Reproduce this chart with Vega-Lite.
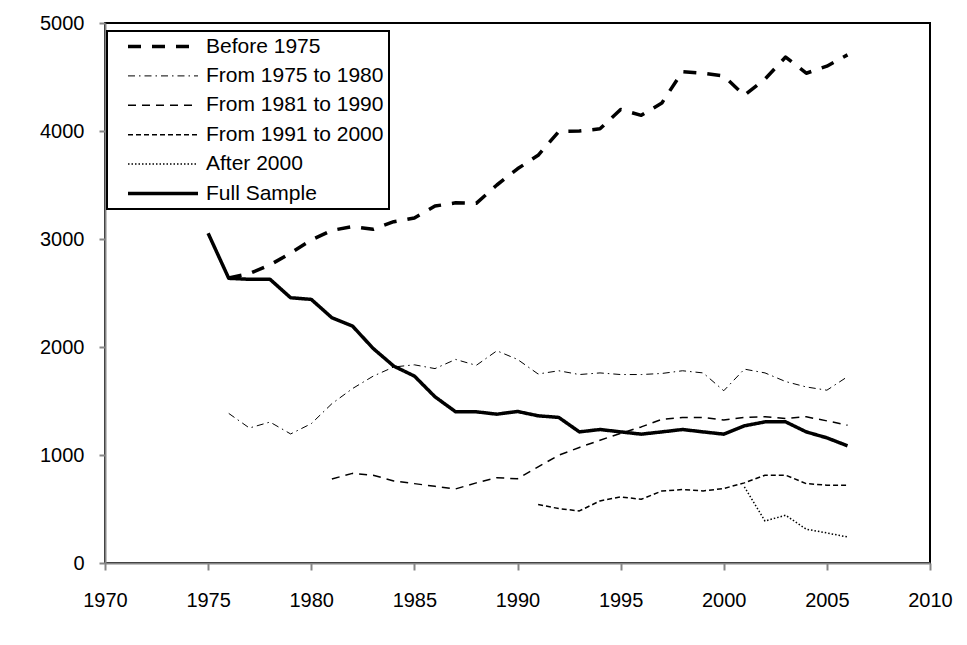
{
  "$schema": "https://vega.github.io/schema/vega-lite/v6.json",
  "width": 825,
  "height": 540,
  "autosize": {"type": "none"},
  "padding": {"left": 105, "top": 23, "right": 37, "bottom": 82},
  "background": "white",
  "config": {
    "font": "Liberation Sans",
    "view": {"stroke": "black", "strokeWidth": 2},
    "axis": {
      "grid": false,
      "domainColor": "#868686",
      "domainWidth": 2,
      "tickColor": "#868686",
      "tickWidth": 2,
      "tickSize": 7,
      "labelFont": "Liberation Sans",
      "labelFontSize": 20,
      "labelColor": "black",
      "title": null
    },
    "legend": {
      "strokeWidth": 2
    }
  },
  "data": {
    "values": [
      {"year": 1976, "series": "Before 1975", "value": 2640},
      {"year": 1977, "series": "Before 1975", "value": 2680},
      {"year": 1978, "series": "Before 1975", "value": 2760},
      {"year": 1979, "series": "Before 1975", "value": 2870},
      {"year": 1980, "series": "Before 1975", "value": 2990},
      {"year": 1981, "series": "Before 1975", "value": 3080},
      {"year": 1982, "series": "Before 1975", "value": 3115},
      {"year": 1983, "series": "Before 1975", "value": 3090},
      {"year": 1984, "series": "Before 1975", "value": 3160},
      {"year": 1985, "series": "Before 1975", "value": 3195},
      {"year": 1986, "series": "Before 1975", "value": 3305},
      {"year": 1987, "series": "Before 1975", "value": 3335},
      {"year": 1988, "series": "Before 1975", "value": 3330},
      {"year": 1989, "series": "Before 1975", "value": 3500},
      {"year": 1990, "series": "Before 1975", "value": 3650},
      {"year": 1991, "series": "Before 1975", "value": 3775},
      {"year": 1992, "series": "Before 1975", "value": 3995},
      {"year": 1993, "series": "Before 1975", "value": 4000},
      {"year": 1994, "series": "Before 1975", "value": 4020},
      {"year": 1995, "series": "Before 1975", "value": 4200},
      {"year": 1996, "series": "Before 1975", "value": 4145},
      {"year": 1997, "series": "Before 1975", "value": 4260},
      {"year": 1998, "series": "Before 1975", "value": 4550},
      {"year": 1999, "series": "Before 1975", "value": 4535},
      {"year": 2000, "series": "Before 1975", "value": 4510},
      {"year": 2001, "series": "Before 1975", "value": 4330},
      {"year": 2002, "series": "Before 1975", "value": 4480},
      {"year": 2003, "series": "Before 1975", "value": 4685},
      {"year": 2004, "series": "Before 1975", "value": 4535},
      {"year": 2005, "series": "Before 1975", "value": 4600},
      {"year": 2006, "series": "Before 1975", "value": 4705},

      {"year": 1976, "series": "From 1975 to 1980", "value": 1385},
      {"year": 1977, "series": "From 1975 to 1980", "value": 1250},
      {"year": 1978, "series": "From 1975 to 1980", "value": 1305},
      {"year": 1979, "series": "From 1975 to 1980", "value": 1195},
      {"year": 1980, "series": "From 1975 to 1980", "value": 1290},
      {"year": 1981, "series": "From 1975 to 1980", "value": 1475},
      {"year": 1982, "series": "From 1975 to 1980", "value": 1615},
      {"year": 1983, "series": "From 1975 to 1980", "value": 1730},
      {"year": 1984, "series": "From 1975 to 1980", "value": 1815},
      {"year": 1985, "series": "From 1975 to 1980", "value": 1835},
      {"year": 1986, "series": "From 1975 to 1980", "value": 1800},
      {"year": 1987, "series": "From 1975 to 1980", "value": 1885},
      {"year": 1988, "series": "From 1975 to 1980", "value": 1830},
      {"year": 1989, "series": "From 1975 to 1980", "value": 1965},
      {"year": 1990, "series": "From 1975 to 1980", "value": 1885},
      {"year": 1991, "series": "From 1975 to 1980", "value": 1750},
      {"year": 1992, "series": "From 1975 to 1980", "value": 1780},
      {"year": 1993, "series": "From 1975 to 1980", "value": 1745},
      {"year": 1994, "series": "From 1975 to 1980", "value": 1760},
      {"year": 1995, "series": "From 1975 to 1980", "value": 1745},
      {"year": 1996, "series": "From 1975 to 1980", "value": 1745},
      {"year": 1997, "series": "From 1975 to 1980", "value": 1755},
      {"year": 1998, "series": "From 1975 to 1980", "value": 1780},
      {"year": 1999, "series": "From 1975 to 1980", "value": 1760},
      {"year": 2000, "series": "From 1975 to 1980", "value": 1595},
      {"year": 2001, "series": "From 1975 to 1980", "value": 1795},
      {"year": 2002, "series": "From 1975 to 1980", "value": 1760},
      {"year": 2003, "series": "From 1975 to 1980", "value": 1680},
      {"year": 2004, "series": "From 1975 to 1980", "value": 1630},
      {"year": 2005, "series": "From 1975 to 1980", "value": 1600},
      {"year": 2006, "series": "From 1975 to 1980", "value": 1725},

      {"year": 1981, "series": "From 1981 to 1990", "value": 778},
      {"year": 1982, "series": "From 1981 to 1990", "value": 830},
      {"year": 1983, "series": "From 1981 to 1990", "value": 813},
      {"year": 1984, "series": "From 1981 to 1990", "value": 760},
      {"year": 1985, "series": "From 1981 to 1990", "value": 735},
      {"year": 1986, "series": "From 1981 to 1990", "value": 710},
      {"year": 1987, "series": "From 1981 to 1990", "value": 686},
      {"year": 1988, "series": "From 1981 to 1990", "value": 742},
      {"year": 1989, "series": "From 1981 to 1990", "value": 790},
      {"year": 1990, "series": "From 1981 to 1990", "value": 780},
      {"year": 1991, "series": "From 1981 to 1990", "value": 890},
      {"year": 1992, "series": "From 1981 to 1990", "value": 998},
      {"year": 1993, "series": "From 1981 to 1990", "value": 1070},
      {"year": 1994, "series": "From 1981 to 1990", "value": 1137},
      {"year": 1995, "series": "From 1981 to 1990", "value": 1200},
      {"year": 1996, "series": "From 1981 to 1990", "value": 1260},
      {"year": 1997, "series": "From 1981 to 1990", "value": 1330},
      {"year": 1998, "series": "From 1981 to 1990", "value": 1348},
      {"year": 1999, "series": "From 1981 to 1990", "value": 1348},
      {"year": 2000, "series": "From 1981 to 1990", "value": 1323},
      {"year": 2001, "series": "From 1981 to 1990", "value": 1348},
      {"year": 2002, "series": "From 1981 to 1990", "value": 1354},
      {"year": 2003, "series": "From 1981 to 1990", "value": 1338},
      {"year": 2004, "series": "From 1981 to 1990", "value": 1354},
      {"year": 2005, "series": "From 1981 to 1990", "value": 1316},
      {"year": 2006, "series": "From 1981 to 1990", "value": 1276},

      {"year": 1991, "series": "From 1991 to 2000", "value": 541},
      {"year": 1992, "series": "From 1991 to 2000", "value": 504},
      {"year": 1993, "series": "From 1991 to 2000", "value": 482},
      {"year": 1994, "series": "From 1991 to 2000", "value": 575},
      {"year": 1995, "series": "From 1991 to 2000", "value": 612},
      {"year": 1996, "series": "From 1991 to 2000", "value": 590},
      {"year": 1997, "series": "From 1991 to 2000", "value": 667},
      {"year": 1998, "series": "From 1991 to 2000", "value": 680},
      {"year": 1999, "series": "From 1991 to 2000", "value": 667},
      {"year": 2000, "series": "From 1991 to 2000", "value": 690},
      {"year": 2001, "series": "From 1991 to 2000", "value": 742},
      {"year": 2002, "series": "From 1991 to 2000", "value": 813},
      {"year": 2003, "series": "From 1991 to 2000", "value": 813},
      {"year": 2004, "series": "From 1991 to 2000", "value": 735},
      {"year": 2005, "series": "From 1991 to 2000", "value": 720},
      {"year": 2006, "series": "From 1991 to 2000", "value": 720},

      {"year": 2001, "series": "After 2000", "value": 705},
      {"year": 2002, "series": "After 2000", "value": 389},
      {"year": 2003, "series": "After 2000", "value": 442},
      {"year": 2004, "series": "After 2000", "value": 313},
      {"year": 2005, "series": "After 2000", "value": 278},
      {"year": 2006, "series": "After 2000", "value": 241},

      {"year": 1975, "series": "Full Sample", "value": 3053},
      {"year": 1976, "series": "Full Sample", "value": 2636},
      {"year": 1977, "series": "Full Sample", "value": 2627},
      {"year": 1978, "series": "Full Sample", "value": 2627},
      {"year": 1979, "series": "Full Sample", "value": 2456},
      {"year": 1980, "series": "Full Sample", "value": 2441},
      {"year": 1981, "series": "Full Sample", "value": 2271},
      {"year": 1982, "series": "Full Sample", "value": 2194},
      {"year": 1983, "series": "Full Sample", "value": 1987},
      {"year": 1984, "series": "Full Sample", "value": 1823},
      {"year": 1985, "series": "Full Sample", "value": 1731},
      {"year": 1986, "series": "Full Sample", "value": 1539},
      {"year": 1987, "series": "Full Sample", "value": 1400},
      {"year": 1988, "series": "Full Sample", "value": 1400},
      {"year": 1989, "series": "Full Sample", "value": 1378},
      {"year": 1990, "series": "Full Sample", "value": 1403},
      {"year": 1991, "series": "Full Sample", "value": 1363},
      {"year": 1992, "series": "Full Sample", "value": 1348},
      {"year": 1993, "series": "Full Sample", "value": 1214},
      {"year": 1994, "series": "Full Sample", "value": 1236},
      {"year": 1995, "series": "Full Sample", "value": 1214},
      {"year": 1996, "series": "Full Sample", "value": 1193},
      {"year": 1997, "series": "Full Sample", "value": 1214},
      {"year": 1998, "series": "Full Sample", "value": 1236},
      {"year": 1999, "series": "Full Sample", "value": 1214},
      {"year": 2000, "series": "Full Sample", "value": 1193},
      {"year": 2001, "series": "Full Sample", "value": 1270},
      {"year": 2002, "series": "Full Sample", "value": 1307},
      {"year": 2003, "series": "Full Sample", "value": 1307},
      {"year": 2004, "series": "Full Sample", "value": 1214},
      {"year": 2005, "series": "Full Sample", "value": 1159},
      {"year": 2006, "series": "Full Sample", "value": 1085}
    ]
  },
  "mark": {"type": "line", "color": "black", "strokeCap": "butt", "strokeJoin": "round"},
  "encoding": {
    "x": {
      "field": "year",
      "type": "quantitative",
      "scale": {"domain": [1970, 2010], "nice": false, "zero": false},
      "axis": {"values": [1970, 1975, 1980, 1985, 1990, 1995, 2000, 2005, 2010], "format": "d", "labelPadding": 20, "labelFlush": false}
    },
    "y": {
      "field": "value",
      "type": "quantitative",
      "scale": {"domain": [0, 5000], "nice": false},
      "axis": {"values": [0, 1000, 2000, 3000, 4000, 5000], "format": "d", "labelPadding": 15, "tickSize": 6}
    },
    "strokeDash": {
      "field": "series",
      "type": "nominal",
      "scale": {
        "domain": ["Before 1975", "From 1975 to 1980", "From 1981 to 1990", "From 1991 to 2000", "After 2000", "Full Sample"],
        "range": [[13, 11], [7, 4, 1.5, 4], [8, 6], [5, 3], [1.5, 2], [1, 0]]
      },
      "legend": {
        "title": null,
        "orient": "none",
        "legendX": 2,
        "legendY": 8,
        "direction": "vertical",
        "symbolType": "stroke",
        "symbolSize": 4900,
        "symbolStrokeColor": "black",
        "labelFontSize": 21,
        "labelFont": "Liberation Sans",
        "labelColor": "black",
        "labelOffset": 8,
        "labelLimit": 400,
        "padding": 5,
        "rowPadding": 7.4,
        "strokeColor": "black",
        "fillColor": "white",
        "encode": {
          "entries": {
            "update": {
              "width": {"value": 285}
            }
          },
          "symbols": {
            "update": {
              "x": {"value": 51},
              "y": {"value": 10.5},
              "strokeWidth": {"signal": "datum.value === 'Before 1975' || datum.value === 'Full Sample' ? 3.5 : (datum.value === 'From 1975 to 1980' ? 1 : 1.5)"}
            }
          },
          "labels": {
            "update": {
              "x": {"value": 94},
              "y": {"value": 10.5}
            }
          }
        }
      }
    },
    "strokeWidth": {
      "condition": [
        {"test": "datum.series === 'Before 1975' || datum.series === 'Full Sample'", "value": 3.5},
        {"test": "datum.series === 'From 1975 to 1980'", "value": 1}
      ],
      "value": 1.5
    }
  }
}
